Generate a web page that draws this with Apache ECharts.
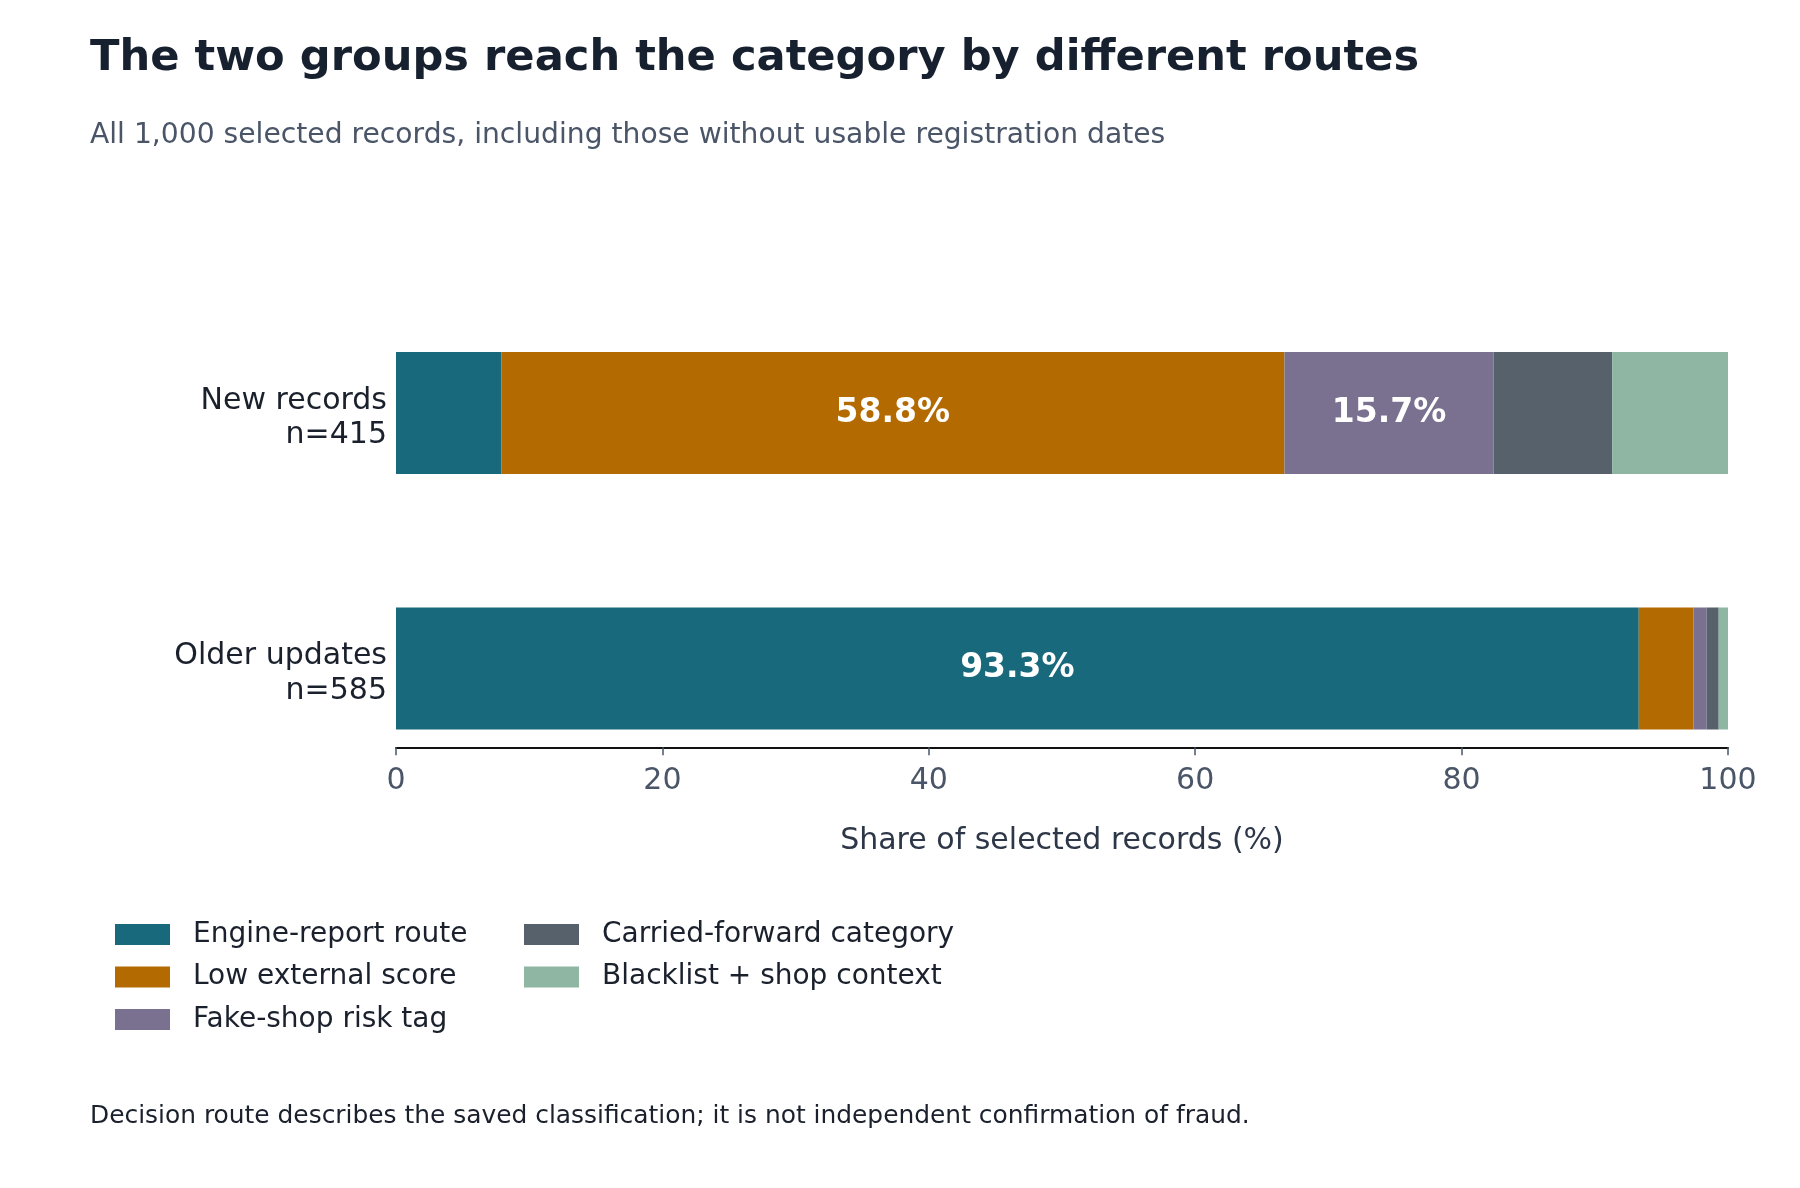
<!DOCTYPE html>
<html>
<head>
<meta charset="utf-8">
<script src="https://cdn.jsdelivr.net/npm/echarts@6/dist/echarts.min.js"></script>
<style>
  html, body { margin: 0; padding: 0; background: #fff; }
  #chart { width: 1800px; height: 1188px; }
</style>
</head>
<body>
<div id="chart"></div>
<script>
// 数据
var groups = ['New records', 'Older updates'];
var groupSizes = [415, 585];
var routes = ['Engine-report route', 'Low external score', 'Fake-shop risk tag', 'Carried-forward category', 'Blacklist + shop context'];
var routeColors = ['#19697d', '#b36a00', '#7a7190', '#56616b', '#8fb6a3'];
// 每个分组中各路线的占比 (%)
var newRecords = [7.9, 58.8, 15.7, 8.9, 8.7];
var olderUpdates = [93.3, 4.1, 1.0, 0.9, 0.7];
var xTicks = [0, 20, 40, 60, 80, 100];

var font = 'DejaVu Sans';

var categoryLabels = [];
for (var g = 0; g < groups.length; g++) {
    categoryLabels.push(groups[g] + '\nn=' + groupSizes[g]);
}

var series = [];
for (var i = 0; i < routes.length; i++) {
    series.push({
        name: routes[i],
        type: 'bar',
        stack: 'share',
        barWidth: 122,
        itemStyle: { color: routeColors[i] },
        label: {
            show: true,
            position: 'inside',
            color: '#ffffff',
            fontFamily: font,
            fontWeight: 'bold',
            fontSize: 33,
            formatter: function (p) {
                // 只标注较大的区段
                return p.value >= 10 ? p.value.toFixed(1) + '%' : '';
            }
        },
        emphasis: { disabled: true },
        data: [newRecords[i], olderUpdates[i]]
    });
}

var legendText = {
    color: '#1a202c',
    fontFamily: font,
    fontSize: 28,
    lineHeight: 30,
    padding: [0, 0, 0, 18]
};

var myChart = echarts.init(document.getElementById('chart'), null, { renderer: 'canvas' });
var option = {
    backgroundColor: '#ffffff',
    animation: false,
    title: [
        {
            text: 'The two groups reach the category by different routes',
            left: 90,
            top: 36.5,
            padding: 0,
            textStyle: { color: '#17202f', fontFamily: font, fontWeight: 'bold', fontSize: 43.2, lineHeight: 44 }
        },
        {
            text: 'All 1,000 selected records, including those without usable registration dates',
            left: 90,
            top: 122,
            padding: 0,
            textStyle: { color: '#4a5568', fontFamily: font, fontWeight: 'normal', fontSize: 28.2, lineHeight: 28 }
        },
        {
            text: 'Decision route describes the saved classification; it is not independent confirmation of fraud.',
            left: 90,
            top: 1103.5,
            padding: 0,
            textStyle: { color: '#1a202c', fontFamily: font, fontWeight: 'normal', fontSize: 24.9, lineHeight: 26 }
        }
    ],
    legend: [
        {
            orient: 'vertical',
            left: 115,
            top: 919.5,
            padding: 0,
            itemGap: 12.5,
            itemWidth: 55,
            itemHeight: 21,
            icon: 'rect',
            selectedMode: false,
            textStyle: legendText,
            data: routes.slice(0, 3)
        },
        {
            orient: 'vertical',
            left: 524,
            top: 919.5,
            padding: 0,
            itemGap: 12.5,
            itemWidth: 55,
            itemHeight: 21,
            icon: 'rect',
            selectedMode: false,
            textStyle: legendText,
            data: routes.slice(3)
        }
    ],
    grid: {
        left: 396,
        right: 72,
        top: 285.25,
        height: 511,
        containLabel: false
    },
    xAxis: {
        type: 'value',
        min: xTicks[0],
        max: xTicks[xTicks.length - 1],
        interval: 20,
        offset: -48.9,
        name: 'Share of selected records (%)',
        nameLocation: 'middle',
        nameGap: 79,
        nameTextStyle: { color: '#2d3748', fontFamily: font, fontSize: 30 },
        axisLine: { show: true, lineStyle: { color: '#111111', width: 2 } },
        axisTick: { show: true, length: 8, lineStyle: { color: '#4a5568', width: 1.5 } },
        axisLabel: { color: '#4a5568', fontFamily: font, fontSize: 30, margin: 18.5 },
        splitLine: { show: false }
    },
    yAxis: {
        type: 'category',
        inverse: true,
        data: categoryLabels,
        axisLine: { show: false },
        axisTick: { show: false },
        axisLabel: {
            color: '#1a202c',
            fontFamily: font,
            fontSize: 30,
            lineHeight: 34.5,
            align: 'right',
            margin: 9,
            // 空白首行让两行标签略低于柱中心
            formatter: function (v) {
                var lines = v.split('\n');
                return '{s| }\n{t|' + lines[0] + '}\n{t|' + lines[1] + '}';
            },
            rich: {
                s: { fontSize: 1, lineHeight: 10 },
                t: { color: '#1a202c', fontFamily: font, fontSize: 30, lineHeight: 34.5 }
            }
        }
    },
    series: series
};
myChart.setOption(option);
</script>
</body>
</html>
